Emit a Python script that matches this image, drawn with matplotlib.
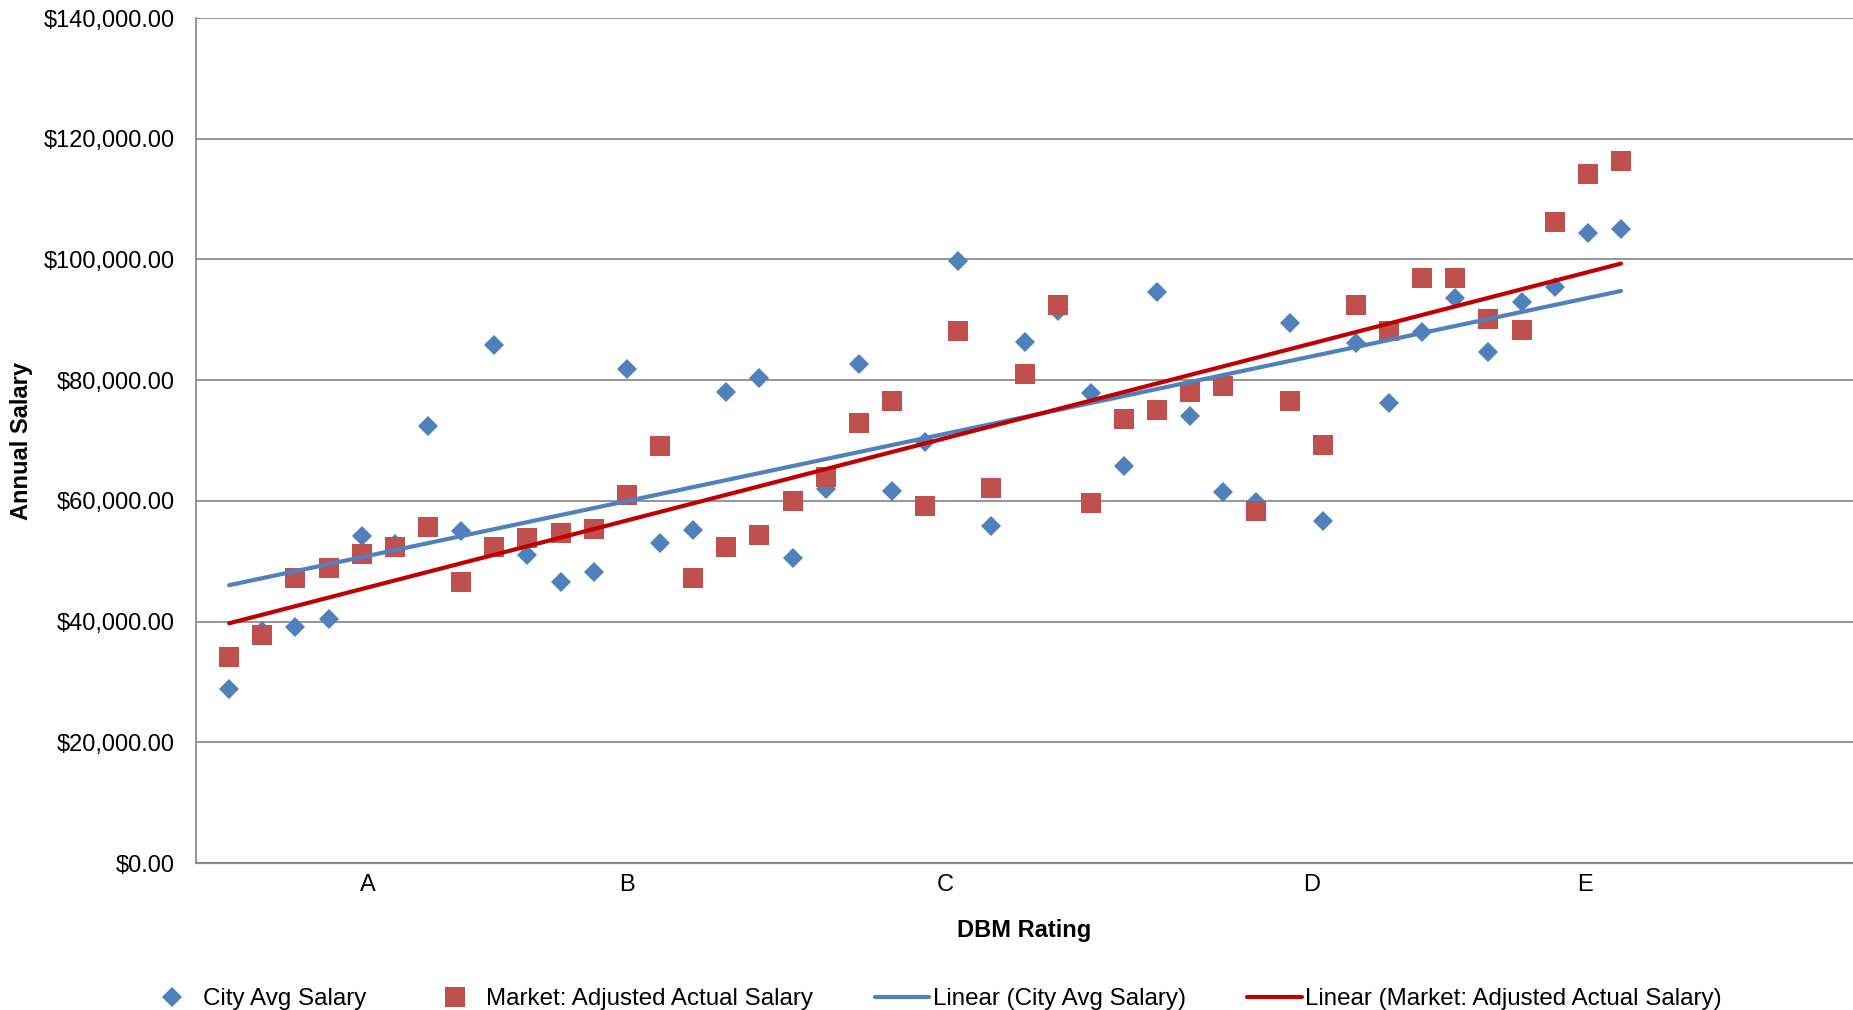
import numpy as np
import matplotlib.pyplot as plt
from matplotlib.ticker import FuncFormatter

plt.rcParams['font.family'] = ['Liberation Sans', 'DejaVu Sans']

# employees ordered by DBM rating
rank = list(range(1, 44))
city_avg = [28900, 38500, 39100, 40500, 54200, 52800, 72400, 55000, 85900, 51000,
            46600, 48200, 81800, 53000, 55200, 78000, 80300, 50500, 62000, 82700,
            61700, 69700, 99700, 55800, 86400, 91500, 77900, 65800, 94600, 74100,
            61400, 59800, 89500, 56600, 86200, 76200, 88000, 93600, 84600, 92900,
            95400, 104400, 105000]
market_adj = [34100, 37800, 47300, 48800, 51200, 52300, 55600, 46500, 52300, 53800,
              54600, 55300, 60900, 69100, 47200, 52400, 54400, 60000, 64000, 72900,
              76600, 59200, 88100, 62100, 81100, 92400, 59600, 73600, 75000, 78100,
              79100, 58400, 76600, 69300, 92400, 88200, 96900, 97000, 90100, 88300,
              106200, 114100, 116300]
rating_labels = ['A', 'B', 'C', 'D', 'E']
rating_pos = [5.2, 13.0, 22.6, 33.65, 41.9]

blue = '#4F81BD'
red = '#C0504D'
dark_red = '#C00000'

fig = plt.figure(figsize=(18.53, 10.10), dpi=100)
ax = fig.add_axes([196 / 1853, 1 - 863 / 1010, 1 - 196 / 1853, (863 - 18) / 1010])

x = np.array(rank)
ax.plot(x, city_avg, linestyle='none', marker='D', markersize=10, color=blue,
        markeredgewidth=0, label='City Avg Salary', zorder=3)
ax.plot(x, market_adj, linestyle='none', marker='s', markersize=14, color=red,
        markeredgewidth=0, label='Market: Adjusted Actual Salary', zorder=3)

# least-squares trend lines
for ys, col, name in [(city_avg, blue, 'Linear (City Avg Salary)'),
                      (market_adj, dark_red, 'Linear (Market: Adjusted Actual Salary)')]:
    m, b = np.polyfit(x, ys, 1)
    ax.plot([x[0], x[-1]], [m * x[0] + b, m * x[-1] + b], color=col, lw=3,
            solid_capstyle='round', label=name, zorder=4)

ax.set_xlim(0, 50)
ax.set_ylim(0, 140000)
ax.set_yticks(np.arange(0, 140001, 20000))
ax.yaxis.set_major_formatter(FuncFormatter(lambda v, p: '${:,.2f}'.format(v)))
ax.set_xticks(rating_pos)
ax.set_xticklabels(rating_labels)
ax.tick_params(axis='y', length=0, pad=15, labelsize=17)
ax.tick_params(axis='x', length=0, pad=8, labelsize=17)

ax.grid(axis='y', color='#8c8c8c', lw=1.3)
ax.set_axisbelow(True)
for s in ['top', 'right']:
    ax.spines[s].set_visible(False)
ax.spines['left'].set_color('#8c8c8c')
ax.spines['left'].set_linewidth(1.3)
ax.spines['bottom'].set_color('#8c8c8c')
ax.spines['bottom'].set_linewidth(1.6)

ax.set_xlabel('DBM Rating', fontsize=17, fontweight='bold', labelpad=16.5)
ax.set_ylabel('Annual Salary', fontsize=17, fontweight='bold', labelpad=8)

fig.legend(loc='center left', bbox_to_anchor=(145 / 1853, 11 / 1010), ncol=4,
           frameon=False, fontsize=17.4, handlelength=2.25, handletextpad=0.15,
           columnspacing=2.55, borderaxespad=0, borderpad=0)

fig.savefig('out.png', dpi=100)
